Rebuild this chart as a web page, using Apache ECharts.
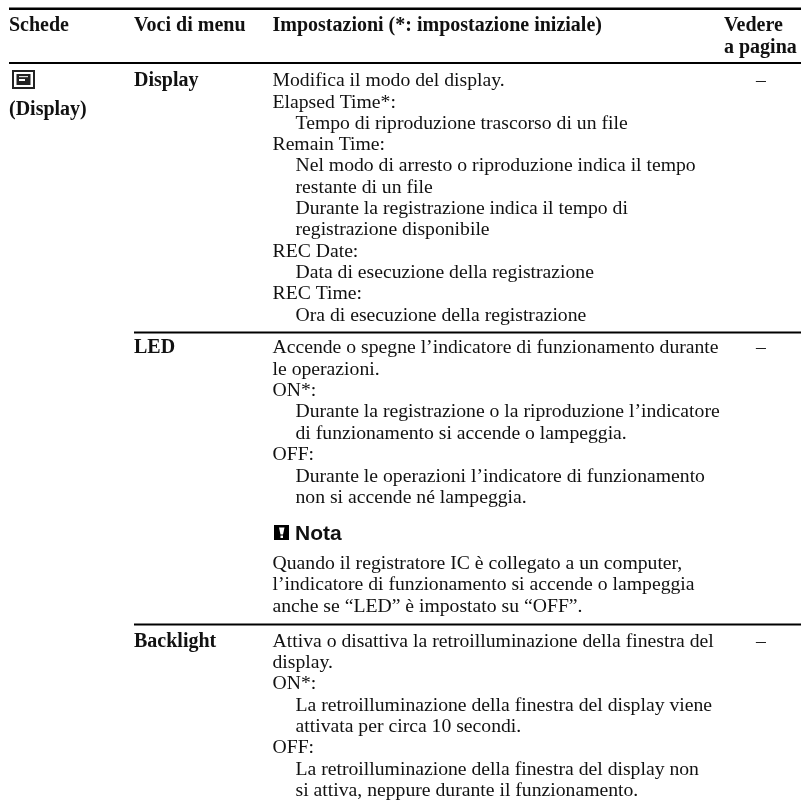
<!DOCTYPE html>
<html><head><meta charset="utf-8">
<style>html,body{margin:0;padding:0;background:#fff}#c{width:801px;height:804px}</style>
<script src="https://cdn.jsdelivr.net/npm/echarts@6/dist/echarts.min.js"></script>
</head><body><div id="c"></div>
<script>
const headers = ['Schede','Voci di menu','Impostazioni (*: impostazione iniziale)'];
const headerPage = ['Vedere','a pagina'];
const tabLabel = '(Display)';
const menuItems = ['Display','LED','Backlight'];
const pageRefs = ['–','–','–'];
const displayIntro = ['Modifica il modo del display.'];
const displayOptions = [
 ['Elapsed Time*:',['Tempo di riproduzione trascorso di un file']],
 ['Remain Time:',['Nel modo di arresto o riproduzione indica il tempo','restante di un file','Durante la registrazione indica il tempo di','registrazione disponibile']],
 ['REC Date:',['Data di esecuzione della registrazione']],
 ['REC Time:',['Ora di esecuzione della registrazione']]
];
const ledIntro = ['Accende o spegne l’indicatore di funzionamento durante','le operazioni.'];
const ledOptions = [
 ['ON*:',['Durante la registrazione o la riproduzione l’indicatore','di funzionamento si accende o lampeggia.']],
 ['OFF:',['Durante le operazioni l’indicatore di funzionamento','non si accende né lampeggia.']]
];
const noteTitle = 'Nota';
const noteLines = ['Quando il registratore IC è collegato a un computer,','l’indicatore di funzionamento si accende o lampeggia','anche se “LED” è impostato su “OFF”.'];
const backlightIntro = ['Attiva o disattiva la retroilluminazione della finestra del','display.'];
const backlightOptions = [
 ['ON*:',['La retroilluminazione della finestra del display viene','attivata per circa 10 secondi.']],
 ['OFF:',['La retroilluminazione della finestra del display non','si attiva, neppure durante il funzionamento.']]
];

const SERIF='"Liberation Serif","Times New Roman",serif', SANS='"Liberation Sans",Arial,sans-serif';
const FS=19.7, BFS=20, LH=21.33, X0=9, X1=134, X2=272.5, XI=295.5, X3=724;
const g=[];
function t(s,x,y,o={}){g.push({type:'text',x,y,silent:true,style:{text:s,fill:'#111',font:`${o.w||'normal'} ${o.fs||FS}px ${o.f||SERIF}`,verticalAlign:'middle',align:o.a||'left'}});}
function b(s,x,y){t(s,x,y,{w:'bold',fs:BFS});}
function rule(y0,y1,x0,x1){g.push({type:'rect',silent:true,shape:{x:x0,y:y0,width:x1-x0,height:y1-y0},style:{fill:'#000'}});}
function block(intro,opts,y,lh){
  intro.forEach(s=>{t(s,X2,y);y+=lh;});
  opts.forEach(([lab,ls])=>{t(lab,X2,y);y+=lh;ls.forEach(s=>{t(s,XI,y);y+=lh;});});
  return y;
}
rule(7.5,10,9,801); rule(62,64,9,801);
rule(331.5,333.5,134,801); rule(623.5,625.5,134,801);
headers.forEach((h,i)=>b(h,[X0,X1,X2][i],26));
b(headerPage[0],X3,26);b(headerPage[1],X3,48);
g.push({type:'rect',silent:true,shape:{x:13,y:71,width:21,height:17},style:{fill:'#fff',stroke:'#222',lineWidth:2}});
g.push({type:'rect',silent:true,shape:{x:16.5,y:74,width:14,height:11},style:{fill:'#222'}});
g.push({type:'rect',silent:true,shape:{x:19,y:76,width:9,height:1.2},style:{fill:'#ddd'}});
g.push({type:'rect',silent:true,shape:{x:19,y:79,width:6,height:2},style:{fill:'#fff'}});
t(tabLabel,X0,109.5,{w:'bold',fs:BFS});
const rowY=[81,348,641.5];
menuItems.forEach((m,i)=>b(m,X1,rowY[i]));
rowY.forEach((y,i)=>t(pageRefs[i],761,y,{a:'center'}));
block(displayIntro,displayOptions,rowY[0],LH);
block(ledIntro,ledOptions,rowY[1],21.43);
g.push({type:'rect',silent:true,shape:{x:274,y:525,width:15,height:15},style:{fill:'#000'}});
g.push({type:'polygon',silent:true,shape:{points:[[279,527.5],[284.5,527.5],[283,534.5],[280.5,534.5]]},style:{fill:'#fff'}});
g.push({type:'rect',silent:true,shape:{x:280.5,y:535.5,width:2.5,height:2.5},style:{fill:'#fff'}});
t(noteTitle,295,534,{w:'bold',f:SANS,fs:21});
noteLines.forEach((s,i)=>t(s,X2,563.5+i*21.7));
block(backlightIntro,backlightOptions,rowY[2],LH);
const chart=echarts.init(document.getElementById('c'),null,{renderer:'canvas',width:801,height:804});
chart.setOption({animation:false,backgroundColor:'#fff',graphic:{elements:g}});
</script></body></html>
